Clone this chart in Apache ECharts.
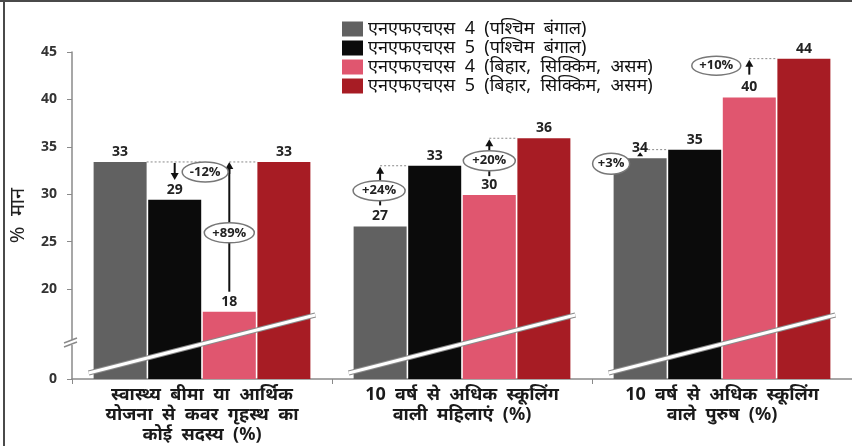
<!DOCTYPE html>
<html>
<head>
<meta charset="utf-8">
<title>एनएफएचएस तुलना</title>
<script src="https://cdn.jsdelivr.net/npm/echarts@6/dist/echarts.min.js"></script>
<style>
  html, body { margin: 0; padding: 0; background: #fff; }
  #main { width: 852px; height: 446px; }
</style>
</head>
<body>
<div id="main"></div>
<script>
// data
var categories = [
  'स्वास्थ्य बीमा या आर्थिक\nयोजना से कवर गृहस्थ का\nकोई सदस्य (%)',
  '10 वर्ष से अधिक स्कूलिंग\nवाली महिलाएं (%)',
  '10 वर्ष से अधिक स्कूलिंग\nवाले पुरुष (%)'
];
var seriesNames = [
  'एनएफएचएस 4 (पश्चिम बंगाल)',
  'एनएफएचएस 5 (पश्चिम बंगाल)',
  'एनएफएचएस 4 (बिहार, सिक्किम, असम)',
  'एनएफएचएस 5 (बिहार, सिक्किम, असम)'
];
var wb4 = [33.4, 26.6, 33.8];
var wb5 = [29.4, 33.0, 34.7];
var bsa4 = [17.6, 29.9, 40.2];
var bsa5 = [33.4, 35.9, 44.3];
var yTicks = [0, 20, 25, 30, 35, 40, 45];
var changeText = ['-12%', '+89%', '+24%', '+20%', '+3%', '+10%'];

var colors = ['#616161', '#0b0b0b', '#e0566f', '#a71c24'];
var yFloor = 10.5; // value where the broken axis shows "0"
var BW = 53, GAP = 0.03;

// the source font sets Hindi words wide apart
function wide(s) { return s.replace(/ /g, '  '); }

var chart = echarts.init(document.getElementById('main'));

var allData = [wb4, wb5, bsa4, bsa5];
var series = allData.map(function (d, i) {
  return {
    name: seriesNames[i],
    type: 'bar',
    barWidth: BW,
    barGap: (GAP * 100) + '%',
    itemStyle: { color: colors[i] },
    label: {
      show: true,
      position: 'top',
      distance: 3,
      fontFamily: 'Open Sans',
      fontWeight: 'bold',
      fontSize: 14,
      color: '#222',
      formatter: function (p) { return Math.round(p.value); }
    },
    data: d
  };
});

var tickPos = yTicks.map(function (v) { return v === 0 ? yFloor : v; });

chart.setOption({
  animation: false,
  textStyle: { fontFamily: 'Noto Sans' },
  legend: {
    orient: 'vertical',
    left: 342,
    top: 20,
    padding: 0,
    icon: 'rect',
    itemWidth: 21,
    itemHeight: 15,
    itemGap: 1,
    formatter: wide,
    textStyle: { fontSize: 18, color: '#111', lineHeight: 18 },
    data: seriesNames
  },
  grid: { left: 70, right: -5.5, top: 52, bottom: 67 },
  xAxis: {
    type: 'category',
    data: categories,
    axisLine: { lineStyle: { color: '#8a8a8a', width: 1.5 } },
    axisTick: { show: true, length: 5, lineStyle: { color: '#8a8a8a' } },
    axisLabel: {
      interval: 0,
      margin: 6,
      fontSize: 18,
      lineHeight: 20,
      fontWeight: 'bold',
      color: '#1a1a1a',
      formatter: wide
    }
  },
  yAxis: {
    type: 'value',
    min: yFloor,
    max: 45,
    name: wide('% मान'),
    nameLocation: 'middle',
    nameGap: 44,
    nameTextStyle: { fontSize: 20, color: '#222' },
    axisLine: { show: true, lineStyle: { color: '#8a8a8a', width: 1.5 } },
    axisTick: { show: true, length: 5, customValues: tickPos, lineStyle: { color: '#8a8a8a' } },
    splitLine: { show: false },
    axisLabel: {
      customValues: tickPos,
      margin: 15,
      fontFamily: 'Open Sans',
      fontWeight: 'bold',
      fontSize: 14,
      color: '#333',
      formatter: function (v) { return v === yFloor ? '0' : v; }
    }
  },
  series: series
});

// annotations, placed from the axis scales
function px(c, s) {
  var cx = chart.convertToPixel({ xAxisIndex: 0 }, c);
  return cx + (s - 1.5) * BW * (1 + GAP);
}
function py(v) { return chart.convertToPixel({ yAxisIndex: 0 }, v); }

var g = [];
function dotted(x1, x2, y) {
  g.push({ type: 'line', z: 50, shape: { x1: x1, y1: y, x2: x2, y2: y },
    style: { stroke: '#8a8a8a', lineWidth: 1, lineDash: [2, 2] } });
}
function arrow(x, y1, y2) {
  var dir = y2 > y1 ? 1 : -1;
  g.push({ type: 'line', z: 50, shape: { x1: x, y1: y1, x2: x, y2: y2 - dir * 5 },
    style: { stroke: '#111', lineWidth: 2 } });
  g.push({ type: 'polygon', z: 50, shape: { points: [[x - 4, y2 - dir * 7], [x + 4, y2 - dir * 7], [x, y2]] },
    style: { fill: '#111' } });
}
function seg(x, y1, y2) {
  g.push({ type: 'line', z: 50, shape: { x1: x, y1: y1, x2: x, y2: y2 },
    style: { stroke: '#111', lineWidth: 2 } });
}
function bubble(cx, cy, w, h, txt) {
  g.push({ type: 'ellipse', z: 60, shape: { cx: cx, cy: cy, rx: w / 2, ry: h / 2 },
    style: { fill: '#fff', stroke: '#777', lineWidth: 1.5 } });
  g.push({ type: 'text', z: 61, x: cx, y: cy,
    style: { text: txt, fill: '#222', font: 'bold 13px "Open Sans"', align: 'center', verticalAlign: 'middle' } });
}

// group 1
var y1g = py(wb4[0]), y1b = py(wb5[0]), y1p = py(bsa4[0]), y1r = py(bsa5[0]);
dotted(px(0, 0) + BW / 2, px(0, 1) + BW / 2, y1g);
arrow(px(0, 1), y1g + 1, y1g + 18);
bubble(px(0, 1) + BW / 2 + 4, y1g + 10, 46, 20, changeText[0]);
seg(px(0, 2), y1p - 20, y1r + 5);
arrow(px(0, 2), y1r + 12, y1r);
dotted(px(0, 2), px(0, 3) - BW / 2, y1r);
bubble(px(0, 2), (y1r + y1p) / 2 - 4, 50, 20, changeText[1]);

// group 2
var y2g = py(wb4[1]), y2b = py(wb5[1]), y2p = py(bsa4[1]), y2r = py(bsa5[1]);
dotted(px(1, 0), px(1, 1) - BW / 2, y2b);
arrow(px(1, 0), y2b + 15, y2b + 1);
bubble(px(1, 0) - 1, y2b + 25, 52, 20, changeText[2]);
seg(px(1, 0), y2g - 28, y2g - 21);
dotted(px(1, 2), px(1, 3) - BW / 2, y2r);
arrow(px(1, 2), y2r + 13, y2r + 1);
bubble(px(1, 2), y2r + 22.5, 52, 20, changeText[3]);
seg(px(1, 2), y2p - 24, y2p - 19);

// group 3
var y3g = py(wb4[2]), y3b = py(wb5[2]), y3p = py(bsa4[2]), y3r = py(bsa5[2]);
dotted(px(2, 0) + 8, px(2, 1) - BW / 2, y3b);
g.push({ type: 'polygon', z: 50, shape: { points: [[px(2, 0) - 3, y3g - 2], [px(2, 0) + 3, y3g - 2], [px(2, 0), y3g - 6]] },
  style: { fill: '#111' } });
bubble(px(2, 0) - 29, y3b + 14, 37, 21, changeText[4]);
dotted(px(2, 2), px(2, 3) - BW / 2, y3r);
arrow(px(2, 2), y3r + 16, y3r + 1);
bubble(px(2, 2) - 33, y3r + 7, 49, 19, changeText[5]);

// diagonal break bands across each group
var y0 = py(yFloor);
for (var c = 0; c < categories.length; c++) {
  var xa = px(c, 0) - BW / 2 - 5, xb = px(c, 3) + BW / 2 + 5;
  g.push({ type: 'line', z: 40, shape: { x1: xa, y1: y0 - 6, x2: xb, y2: y0 - 64 },
    style: { stroke: '#8a8a8a', lineWidth: 5 } });
  g.push({ type: 'line', z: 41, shape: { x1: xa, y1: y0 - 6, x2: xb, y2: y0 - 64 },
    style: { stroke: '#fff', lineWidth: 3 } });
}

// break mark on the y axis
var ax = 70, by = y0 - 35;
g.push({ type: 'rect', z: 40, shape: { x: ax - 3, y: by - 4, width: 6, height: 5 }, style: { fill: '#fff' } });
g.push({ type: 'line', z: 41, shape: { x1: ax - 6, y1: by - 1, x2: ax + 7, y2: by - 6 }, style: { stroke: '#8a8a8a', lineWidth: 1.5 } });
g.push({ type: 'line', z: 41, shape: { x1: ax - 6, y1: by + 3, x2: ax + 7, y2: by - 2 }, style: { stroke: '#8a8a8a', lineWidth: 1.5 } });

// frame on top and left
g.push({ type: 'line', z: 70, shape: { x1: 0, y1: 1, x2: 852, y2: 1 }, style: { stroke: '#4a4a4a', lineWidth: 2 } });
g.push({ type: 'line', z: 70, shape: { x1: 4, y1: 0, x2: 4, y2: 446 }, style: { stroke: '#4a4a4a', lineWidth: 2 } });

chart.setOption({ graphic: { elements: g } });

window.onresize = function () { chart.resize(); };
</script>
</body>
</html>
